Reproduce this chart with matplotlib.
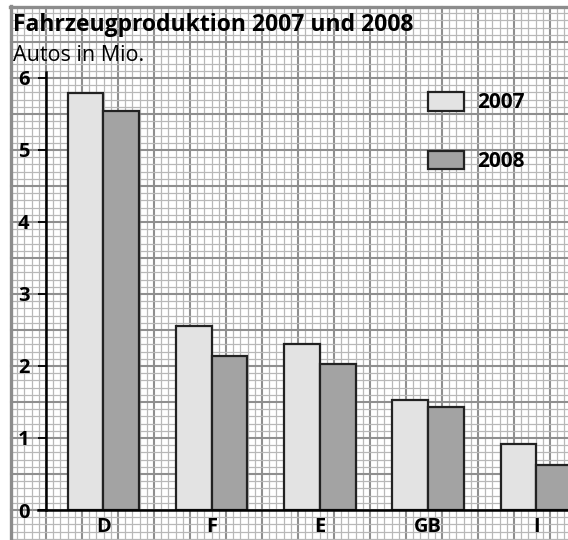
import numpy as np
import matplotlib.pyplot as plt

# Daten (Autos in Mio.)
laender = ['D', 'F', 'E', 'GB', 'I']
werte_2007 = [5.79, 2.55, 2.31, 1.53, 0.91]
werte_2008 = [5.54, 2.14, 2.02, 1.43, 0.63]
y_ticks = [0, 1, 2, 3, 4, 5, 6]

W, H = 568, 540
fig = plt.figure(figsize=(W / 100, H / 100), dpi=100)
plt.rcParams['font.family'] = ['Open Sans', 'DejaVu Sans']

# Hintergrund: Millimeterpapier in Pixelkoordinaten
bg = fig.add_axes([0, 0, 1, 1])
bg.set_xlim(0, W)
bg.set_ylim(H, 0)
bg.axis('off')
schritt = 7.2
x0, y0 = 46, 510
for k in range(-6, 80):
    x = x0 + k * schritt
    if 11 < x < W:
        major = (k % 5 == 0)
        bg.plot([x, x], [7, H], color='#8f8f8f' if major else '#b8b8b8',
                lw=1.5 if major else 0.9, zorder=1)
for k in range(-6, 80):
    y = y0 - k * schritt
    if 7 < y < H:
        major = (k % 5 == 0)
        bg.plot([11, W], [y, y], color='#8f8f8f' if major else '#b8b8b8',
                lw=1.5 if major else 0.9, zorder=1)
# grauer Rahmen oben und links
bg.plot([11, 11], [6, H], color='#8c8c8c', lw=2.4, zorder=2)
bg.plot([10, W], [7, 7], color='#8c8c8c', lw=2.4, zorder=2)

bg.text(13, 31, 'Fahrzeugproduktion 2007 und 2008', fontsize=16.5,
        fontweight='bold', va='baseline', ha='left', color='black')
bg.text(13, 61, 'Autos in Mio.', fontsize=15.5, va='baseline', ha='left')

# Diagramm
ax = fig.add_axes([46 / W, 30 / H, 1 - 46 / W, 438 / H])
ax.patch.set_alpha(0)
x = np.arange(len(laender))
breite = 0.33
ax.bar(x - breite / 2, werte_2007, breite, color='#e3e3e3',
       edgecolor='#222222', linewidth=1.6, label='2007', zorder=3)
ax.bar(x + breite / 2, werte_2008, breite, color='#a3a3a3',
       edgecolor='#222222', linewidth=1.6, label='2008', zorder=3)

ax.set_xlim(-0.529, 4.291)
ax.set_ylim(0, 6.08)
ax.set_yticks(y_ticks)
ax.set_yticklabels([str(t) for t in y_ticks], fontsize=14.5, fontweight='bold')
ax.set_xticks(x)
ax.set_xticklabels(laender, fontsize=14.5, fontweight='bold')
ax.tick_params(axis='y', length=6, width=1.3, pad=6, direction='out')
ax.tick_params(axis='x', length=0, pad=5)
for s in ['top', 'right']:
    ax.spines[s].set_visible(False)
ax.spines['left'].set_linewidth(1.8)
ax.spines['bottom'].set_linewidth(1.8)
ax.spines['left'].set_zorder(4)
ax.spines['bottom'].set_zorder(4)
ax.spines['bottom'].set_bounds(-0.60, 4.4)

ax.legend(loc='upper left', bbox_to_anchor=(428 / W, 1 - 92 / H),
          bbox_transform=fig.transFigure, frameon=False, borderpad=0,
          borderaxespad=0, handlelength=1.73, handleheight=1.0,
          handletextpad=0.62, labelspacing=1.78,
          prop={'size': 15, 'weight': 'bold'})

fig.savefig('out.png', dpi=100)
